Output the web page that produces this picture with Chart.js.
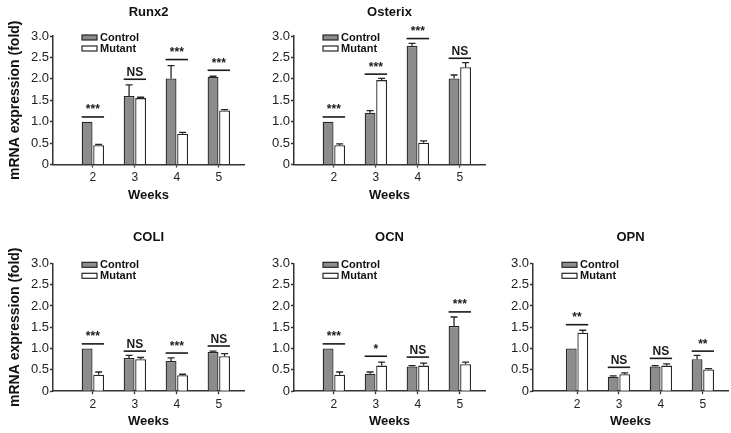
<!DOCTYPE html>
<html>
<head>
<meta charset="utf-8">
<script src="https://cdn.jsdelivr.net/npm/chart.js@4.4.1/dist/chart.umd.min.js"></script>
<style>
  body { margin: 0; background: #fff; }
  #wrap { position: relative; width: 731px; height: 433px; overflow: hidden; }
  canvas { position: absolute; }
</style>
</head>
<body>
<div id="wrap">
  <canvas id="runx2" width="246" height="212" style="left:0;top:0"></canvas>
  <canvas id="osterix" width="246" height="212" style="left:241px;top:0"></canvas>
  <canvas id="coli" width="246" height="218" style="left:0;top:215px"></canvas>
  <canvas id="ocn" width="246" height="218" style="left:241px;top:215px"></canvas>
  <canvas id="opn" width="251" height="218" style="left:480px;top:215px"></canvas>
</div>
<script>
const weeks = [2, 3, 4, 5];
const seriesNames = ["Control", "Mutant"];

const runx2Control = [1.0, 1.6, 2.01, 2.04];
const runx2ControlErr = [0, 0.26, 0.3, 0.02];
const runx2Mutant = [0.45, 1.55, 0.72, 1.26];
const runx2MutantErr = [0.02, 0.02, 0.03, 0.02];
const runx2Sig = ["***", "NS", "***", "***"];
const runx2SigAt = [1.11, 1.99, 2.45, 2.2];

const osterixControl = [1.0, 1.21, 2.77, 2.01];
const osterixControlErr = [0, 0.05, 0.06, 0.08];
const osterixMutant = [0.45, 1.97, 0.51, 2.27];
const osterixMutantErr = [0.03, 0.04, 0.04, 0.11];
const osterixSig = ["***", "***", "***", "NS"];
const osterixSigAt = [1.11, 2.11, 2.94, 2.48];

const coliControl = [1.0, 0.78, 0.71, 0.92];
const coliControlErr = [0, 0.06, 0.07, 0.02];
const coliMutant = [0.385, 0.75, 0.377, 0.82];
const coliMutantErr = [0.065, 0.04, 0.02, 0.06];
const coliSig = ["***", "NS", "***", "NS"];
const coliSigAt = [1.11, 0.94, 0.895, 1.06];

const ocnControl = [1.0, 0.41, 0.58, 1.53];
const ocnControlErr = [0, 0.04, 0.02, 0.21];
const ocnMutant = [0.385, 0.6, 0.6, 0.635];
const ocnMutantErr = [0.065, 0.08, 0.06, 0.045];
const ocnSig = ["***", "*", "NS", "***"];
const ocnSigAt = [1.11, 0.82, 0.8, 1.86];

const opnControl = [1.0, 0.34, 0.58, 0.75];
const opnControlErr = [0, 0.02, 0.02, 0.09];
const opnMutant = [1.37, 0.4, 0.6, 0.51];
const opnMutantErr = [0.06, 0.03, 0.04, 0.02];
const opnSig = ["**", "NS", "NS", "**"];
const opnSigAt = [1.56, 0.56, 0.77, 0.94];

const FONT = "Arial, 'Liberation Sans', sans-serif";
Chart.defaults.font.family = FONT;

// upward error bars only, like the original figure
const errorBars = {
  id: "errorBars",
  afterDatasetsDraw(chart) {
    const { ctx, scales: { y } } = chart;
    ctx.save();
    ctx.strokeStyle = "#262626";
    ctx.lineWidth = 1.3;
    chart.data.datasets.forEach((ds, i) => {
      chart.getDatasetMeta(i).data.forEach((bar, j) => {
        const err = ds.errors[j];
        if (!err) return;
        const yTop = y.getPixelForValue(ds.data[j].y + err);
        ctx.beginPath();
        ctx.moveTo(bar.x, bar.y);
        ctx.lineTo(bar.x, yTop);
        ctx.moveTo(bar.x - 3.5, yTop);
        ctx.lineTo(bar.x + 3.5, yTop);
        ctx.stroke();
      });
    });
    ctx.restore();
  },
};

// significance line + label over each pair of bars
const sigMarks = {
  id: "sigMarks",
  afterDatasetsDraw(chart, args, opts) {
    const { ctx, scales: { y } } = chart;
    const left = chart.getDatasetMeta(0).data;
    const right = chart.getDatasetMeta(1).data;
    ctx.save();
    ctx.strokeStyle = "#1a1a1a";
    ctx.fillStyle = "#1a1a1a";
    ctx.lineWidth = 1.6;
    ctx.font = "bold 12px " + FONT;
    ctx.textAlign = "center";
    opts.labels.forEach((txt, j) => {
      const x0 = left[j].x - left[j].width / 2;
      const x1 = right[j].x + right[j].width / 2;
      const yy = y.getPixelForValue(opts.at[j]);
      ctx.beginPath();
      ctx.moveTo(x0, yy);
      ctx.lineTo(x1, yy);
      ctx.stroke();
      ctx.fillText(txt, (x0 + x1) / 2, yy - 3.5);
    });
    ctx.restore();
  },
};

// legend sits inside the plot, top left
const innerLegend = {
  id: "innerLegend",
  afterDraw(chart) {
    const { ctx, chartArea } = chart;
    ctx.save();
    ctx.font = "bold 11px " + FONT;
    ctx.textBaseline = "middle";
    chart.data.datasets.forEach((ds, i) => {
      const x = chartArea.left + 29;
      const y = chartArea.top + 1.5 + i * 11;
      ctx.fillStyle = ds.backgroundColor;
      ctx.fillRect(x, y - 2.5, 15, 5);
      ctx.strokeStyle = ds.borderColor;
      ctx.lineWidth = 1.2;
      ctx.strokeRect(x, y - 2.5, 15, 5);
      ctx.fillStyle = "#111";
      ctx.fillText(ds.label, x + 18, y);
    });
    ctx.restore();
  },
};

const topRow = { titleTop: 5.5, titleBottom: 17.5, padBottom: 10.5 };
const bottomRow = { titleTop: 15.5, titleBottom: 19.8, padBottom: 4.8 };

function createChart(canvasId, box, title, control, controlErr, mutant, mutantErr, sig, sigAt) {
  const ctx = document.getElementById(canvasId).getContext("2d");
  const bars = [
    { label: seriesNames[0], values: control, errors: controlErr, color: "#8c8c8c" },
    { label: seriesNames[1], values: mutant, errors: mutantErr, color: "#ffffff" },
  ];
  new Chart(ctx, {
    type: "bar",
    data: {
      datasets: bars.map((b) => ({
        label: b.label,
        data: weeks.map((w, i) => ({ x: w, y: b.values[i] })),
        errors: b.errors,
        backgroundColor: b.color,
        borderColor: "#262626",
        borderWidth: 1.3,
        categoryPercentage: 0.55,
        barPercentage: 0.94,
      })),
    },
    options: {
      responsive: false,
      animation: false,
      layout: { padding: { left: 0, right: box.padRight, top: 0, bottom: box.padBottom } },
      plugins: {
        legend: { display: false },
        tooltip: { enabled: false },
        title: {
          display: true,
          fullSize: false,
          text: title,
          color: "#111",
          font: { size: 13, weight: "bold", lineHeight: 1 },
          padding: { top: box.titleTop, bottom: box.titleBottom },
        },
        sigMarks: { labels: sig, at: sigAt },
      },
      scales: {
        x: {
          type: "linear",
          min: box.xMin,
          max: 5.6,
          offset: false,
          afterBuildTicks: (s) => {
            s.ticks = weeks.map((v) => ({ value: v }));
          },
          grid: { drawOnChartArea: false, offset: false, tickLength: 3, color: "#333", tickWidth: 1.3 },
          border: { color: "#333", width: 1.5 },
          ticks: { padding: 4, color: "#222", font: { size: 12, lineHeight: 1 } },
          title: {
            display: true,
            text: "Weeks",
            color: "#111",
            font: { size: 13, weight: "bold", lineHeight: 1 },
            padding: { top: 1, bottom: 0 },
          },
        },
        y: {
          min: 0,
          max: 3,
          afterFit: (s) => {
            s.width = 53;
          },
          grid: { drawOnChartArea: false, tickLength: 3, color: "#333", tickWidth: 1.3 },
          border: { color: "#333", width: 1.5 },
          ticks: {
            stepSize: 0.5,
            padding: 1,
            color: "#222",
            font: { size: 13, lineHeight: 1 },
            callback: (v) => (v === 0 ? "0" : v.toFixed(1)),
          },
          title: {
            display: box.yTitle,
            text: "mRNA expression (fold)",
            color: "#111",
            font: { size: 14, weight: "bold", lineHeight: 1 },
            padding: { top: 8, bottom: 0 },
          },
        },
      },
    },
    plugins: [errorBars, sigMarks, innerLegend],
  });
}

createChart("runx2", { ...topRow, padRight: 2, xMin: 1.05, yTitle: true }, "Runx2",
  runx2Control, runx2ControlErr, runx2Mutant, runx2MutantErr, runx2Sig, runx2SigAt);
createChart("osterix", { ...topRow, padRight: 2, xMin: 1.05, yTitle: false }, "Osterix",
  osterixControl, osterixControlErr, osterixMutant, osterixMutantErr, osterixSig, osterixSigAt);
createChart("coli", { ...bottomRow, padRight: 2, xMin: 1.05, yTitle: true }, "COLI",
  coliControl, coliControlErr, coliMutant, coliMutantErr, coliSig, coliSigAt);
createChart("ocn", { ...bottomRow, padRight: 2, xMin: 1.05, yTitle: false }, "OCN",
  ocnControl, ocnControlErr, ocnMutant, ocnMutantErr, ocnSig, ocnSigAt);
createChart("opn", { ...bottomRow, padRight: 3, xMin: 0.95, yTitle: false }, "OPN",
  opnControl, opnControlErr, opnMutant, opnMutantErr, opnSig, opnSigAt);
</script>
</body>
</html>
